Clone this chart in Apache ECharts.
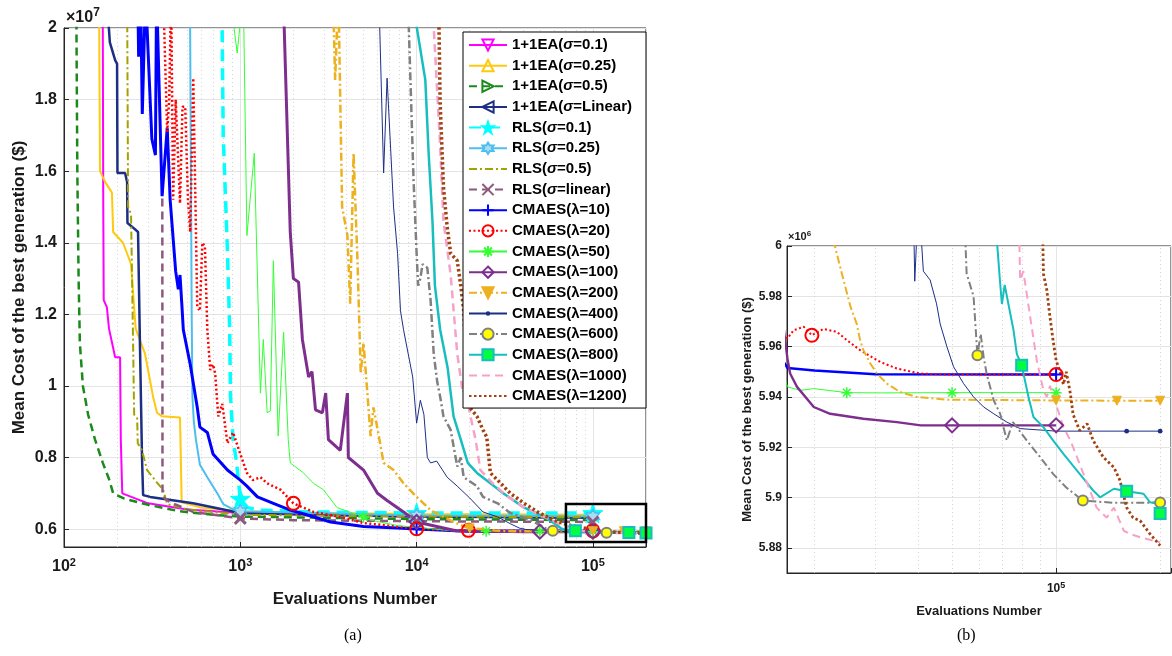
<!DOCTYPE html>
<html><head><meta charset="utf-8">
<script src="https://cdn.jsdelivr.net/npm/echarts@6/dist/echarts.min.js"></script>
<style>html,body{margin:0;padding:0;background:#fff}#c{width:1172px;height:656px}</style>
</head><body><div id="c"></div>
<script>
// ---------------- DATA (x = evaluations, y = mean cost in millions of $) ----------------
const seriesNames = ['1+1EA(σ=0.1)','1+1EA(σ=0.25)','1+1EA(σ=0.5)','1+1EA(σ=Linear)','RLS(σ=0.1)','RLS(σ=0.25)','RLS(σ=0.5)','RLS(σ=linear)','CMAES(λ=10)','CMAES(λ=20)','CMAES(λ=50)','CMAES(λ=100)','CMAES(λ=200)','CMAES(λ=400)','CMAES(λ=600)','CMAES(λ=800)','CMAES(λ=1000)','CMAES(λ=1200)'];

const ea01 = [[163,21],[166,20],[167,15],[168,12.4],[175,12.2],[180,11.6],[195,10.8],[208,10.8],[210,8.5],[214,7.0],[216,7.0],[300,6.72],[500,6.55],[1000,6.45],[3000,6.38],[1e4,6.35],[3e4,6.34],[1e5,6.33]];
const ea025 = [[158,21],[160,16],[171,15.7],[187,15.4],[190,14.3],[216,14.0],[228,13.7],[240,13.4],[255,11.6],[260,11.57],[288,10.9],[320,9.7],[337,9.25],[360,9.15],[455,9.12],[465,6.75],[600,6.6],[1000,6.5],[3000,6.45],[1e4,6.42],[1e5,6.4]];
const ea05 = [[117,22],[119,16],[121,13],[123,11.2],[128,10],[137,9.2],[150,8.5],[166,7.85],[180,7.4],[190,7.0],[220,6.85],[300,6.68],[450,6.5],[700,6.4],[1000,6.35],[1e4,6.28],[1e5,6.25]];
const eaLin = [[174,21],[182,19.6],[195,19.1],[200,19.0],[201,15.95],[222,15.95],[228,15.7],[229,14.55],[243,14.45],[263,14.3],[270,11],[277,8.0],[281,6.95],[308,6.9],[540,6.72],[1000,6.45],[1e4,6.35],[1e5,6.32]];
const rls01 = [[785,21],[800,17],[845,13.8],[870,11.6],[880,9.7],[910,8.5],[950,7.9],[1000,6.85],[1100,6.6],[1300,6.53],[2500,6.48],[1e4,6.45],[1e5,6.45]];
const rls025 = [[518,21],[530,12],[535,9.7],[545,9.0],[560,8.5],[590,7.8],[650,7.45],[740,7.0],[800,6.7],[910,6.55],[1000,6.5],[1e4,6.38],[1e5,6.36]];
const rls05 = [[228,21],[231,15],[240,14.8],[246,11.5],[250,9.2],[260,9.1],[262,8.4],[277,8.2],[296,7.65],[337,7.3],[365,7.1],[385,6.7],[500,6.55],[1000,6.4],[1e4,6.35],[1e5,6.33]];
const rlsLin = [[361,15.6],[362,6.9],[400,6.75],[540,6.48],[1000,6.3],[2000,6.25],[1e4,6.22],[1e5,6.2]];
const cma10 = [[262,21],[265,19.2],[272,21],[278,17.6],[290,21],[315,16.9],[330,16.45],[335,21],[360,15.3],[385,17.2],[400,15.2],[430,13.2],[445,12.7],[455,13.1],[467,12.2],[475,11.57],[520,10.6],[570,9.4],[590,8.85],[650,8.7],[700,8.1],[845,7.65],[1000,7.37],[1090,7.2],[1250,6.9],[1540,6.72],[1920,6.53],[2200,6.45],[3250,6.2],[5000,6.07],[7800,6.03],[1e4,6.0],[1.67e4,5.9515],[2e4,5.9505],[3e4,5.949],[1e5,5.9489]];
const cma20 = [[365,21],[385,17.1],[395,18],[405,21],[416,15.2],[430,18],[455,15.1],[470,17.8],[487,17.8],[505,15.2],[520,14.3],[541,18.6],[570,12.2],[590,12.1],[609,14.0],[630,13.9],[650,11.57],[675,10.45],[700,10.6],[720,10.35],[750,9.15],[790,9.5],[845,8.4],[910,8.7],[1000,8.1],[1090,7.57],[1180,7.37],[1300,7.45],[1420,7.28],[1690,7.1],[2000,6.72],[2600,6.48],[3690,6.34],[5000,6.17],[1e4,6.01],[1.67e4,5.9632],[1.74e4,5.9665],[1.86e4,5.9679],[1.965e4,5.9645],[2.12e4,5.967],[2.32e4,5.9659],[2.48e4,5.9626],[2.71e4,5.9586],[3.1e4,5.9539],[3.46e4,5.9513],[4.04e4,5.9493],[4.83e4,5.9489],[1e5,5.9489]];
const cma50 = [[870,21],[960,19.3],[1040,21],[1090,14.2],[1200,16.5],[1300,9.8],[1350,11.3],[1420,9.25],[1480,9.3],[1540,13.5],[1640,8.6],[1760,11.5],[1870,8.5],[1920,7.85],[2280,7.57],[2600,7.28],[2960,7.1],[3540,6.6],[4620,6.4],[5000,6.34],[5480,6.25],[7800,6.1],[1e4,6.05],[1.67e4,5.944],[1.82e4,5.9426],[1.99e4,5.9433],[2.48e4,5.9417],[3.1e4,5.9416],[5e4,5.9417],[1e5,5.9417]];
const cma100 = [[1750,21],[1920,14.3],[2000,13.0],[2140,12.9],[2250,11.3],[2440,10.25],[2550,10.4],[2670,9.33],[2920,9.25],[3050,9.8],[3160,8.5],[3690,8.2],[4050,9.8],[4100,8.0],[5000,7.65],[6000,7.0],[6800,6.8],[8430,6.48],[1e4,6.2],[1.67e4,5.9552],[1.7e4,5.9493],[1.78e4,5.944],[1.99e4,5.936],[2.22e4,5.9333],[2.77e4,5.9313],[3.46e4,5.93],[4.06e4,5.9287],[5e4,5.9287],[1e5,5.9287]];
const cma200 = [[3350,21],[3450,18.55],[3600,21],[3780,15.0],[4050,14.2],[4200,12.3],[4390,16.5],[4620,13.5],[4820,10.35],[5000,11.2],[5200,10.1],[5480,8.6],[5690,9.4],[6000,8.8],[6500,7.85],[7400,7.65],[8430,7.28],[1e4,6.9],[1.2e4,6.53],[1.42e4,6.34],[1.8e4,6.1],[2e4,6.02],[2.29e4,6.0],[2.4e4,5.989],[2.54e4,5.976],[2.65e4,5.969],[2.71e4,5.9625],[2.77e4,5.9586],[2.9e4,5.9533],[3.03e4,5.9493],[3.24e4,5.9453],[3.53e4,5.942],[3.95e4,5.94],[4.83e4,5.9389],[1e5,5.9386],[1.5e5,5.9385],[2e5,5.9385]];
const cma400 = [[6100,21],[6500,15.95],[6800,18.6],[7400,15.0],[7800,13.7],[8100,12.1],[8430,11.57],[9500,10.25],[1e4,8.96],[1.05e4,9.6],[1.1e4,9.2],[1.15e4,8.0],[1.2e4,7.85],[1.3e4,7.9],[1.49e4,7.45],[1.7e4,7.2],[2e4,6.87],[2.38e4,6.48],[2.88e4,6.34],[3.4e4,6.15],[3.86e4,6.02],[3.9e4,5.986],[4.0e4,6.02],[4.13e4,5.99],[4.32e4,5.9865],[4.51e4,5.977],[4.62e4,5.969],[4.83e4,5.96],[5.05e4,5.952],[5.4e4,5.9453],[5.77e4,5.94],[6.17e4,5.936],[6.6e4,5.9333],[7.2e4,5.93],[7.87e4,5.9274],[1e5,5.9264],[1.6e5,5.9264],[2e5,5.9264]];
const cma600 = [[8900,21],[9600,15.8],[1e4,13.7],[1.02e4,12.8],[1.05e4,13.0],[1.08e4,13.4],[1.15e4,13.3],[1.2e4,12.4],[1.25e4,10.9],[1.31e4,10.1],[1.36e4,9.7],[1.42e4,9.15],[1.56e4,8.77],[1.7e4,7.75],[1.78e4,8.0],[1.85e4,7.45],[2.2e4,7.2],[2.38e4,6.9],[2.88e4,6.72],[3.4e4,6.45],[4.45e4,6.25],[5.4e4,6.02],[5.51e4,5.989],[5.77e4,5.98],[5.92e4,5.9566],[6.05e4,5.965],[6.17e4,5.956],[6.3e4,5.949],[6.6e4,5.9386],[6.89e4,5.9333],[7.2e4,5.9227],[7.5e4,5.93],[8.22e4,5.9227],[9.0e4,5.916],[9.8e4,5.9094],[1.07e5,5.904],[1.195e5,5.8988],[1.47e5,5.8979],[2e5,5.898]];
const cma800 = [[9300,21],[1.12e4,18.55],[1.17e4,16.5],[1.23e4,14.6],[1.27e4,12.8],[1.36e4,11.57],[1.5e4,10.5],[1.62e4,9.15],[1.78e4,8.5],[1.95e4,7.85],[2.2e4,7.57],[2.62e4,7.28],[3.1e4,7.0],[4.07e4,6.6],[5.3e4,6.34],[6.3e4,6.1],[6.59e4,6.02],[6.89e4,5.985],[6.97e4,5.977],[7.1e4,5.9845],[7.53e4,5.9665],[7.7e4,5.957],[7.95e4,5.9526],[8.32e4,5.94],[8.6e4,5.932],[9.19e4,5.928],[9.8e4,5.9227],[1.05e5,5.9174],[1.17e5,5.9094],[1.28e5,5.9028],[1.34e5,5.9001],[1.47e5,5.9035],[1.6e5,5.9025],[1.79e5,5.9015],[1.87e5,5.8981],[1.97e5,5.8975],[2e5,5.8937]];
const cma1000 = [[1.22e4,21],[1.36e4,16.7],[1.42e4,14.6],[1.56e4,13.1],[1.7e4,10.9],[1.83e4,9.8],[1.9e4,10.0],[2e4,9.25],[2.16e4,8.5],[2.3e4,7.65],[2.7e4,7.28],[3.3e4,6.9],[4.07e4,6.6],[5.3e4,6.34],[6.8e4,6.1],[7.78e4,6.02],[7.87e4,5.9865],[8.04e4,5.99],[8.41e4,5.972],[8.79e4,5.9546],[9.19e4,5.9426],[9.4e4,5.94],[9.6e4,5.9444],[1.05e5,5.928],[1.1e5,5.9227],[1.15e5,5.916],[1.2e5,5.9094],[1.31e5,5.896],[1.4e5,5.892],[1.47e5,5.896],[1.57e5,5.8868],[1.64e5,5.8855],[1.75e5,5.8842],[2e5,5.8822]];
const cma1200 = [[1.33e4,21],[1.36e4,17.9],[1.42e4,15.56],[1.49e4,14.45],[1.56e4,13.7],[1.7e4,13.5],[1.78e4,12.8],[1.85e4,12.1],[1.92e4,10.5],[2e4,9.4],[2.2e4,9.15],[2.38e4,8.77],[2.5e4,8.57],[2.62e4,7.57],[2.88e4,7.37],[3.4e4,7.0],[4.07e4,6.72],[4.86e4,6.48],[5.95e4,6.25],[7.5e4,6.1],[9.1e4,6.02],[9.19e4,5.989],[9.4e4,5.9825],[9.6e4,5.9718],[9.8e4,5.9625],[1e5,5.9546],[1.03e5,5.9493],[1.05e5,5.945],[1.07e5,5.95],[1.1e5,5.9413],[1.12e5,5.933],[1.17e5,5.9267],[1.23e5,5.9293],[1.28e5,5.9227],[1.37e5,5.916],[1.47e5,5.912],[1.53e5,5.9068],[1.6e5,5.896],[1.67e5,5.892],[1.75e5,5.8908],[1.87e5,5.8855],[2e5,5.8809]];

// x positions where markers are drawn on each curve
const marks = {
  ea01: [], ea025: [], ea05: [], eaLin: [],
  rls01: [1000, 1e4, 1e5], rls025: [1000, 1e4, 1e5], rls05: [], rlsLin: [1000, 1e4, 1e5],
  cma10: [1e4, 1e5], cma20: [2000, 1e4, 1.965e4, 1e5], cma50: [5000, 2.48e4, 5e4, 1e5],
  cma100: [1e4, 5e4, 1e5], cma200: [2e4, 1e5, 1.5e5, 2e5], cma400: [1.6e5, 2e5],
  cma600: [5.92e4, 1.195e5, 2e5], cma800: [7.95e4, 1.6e5, 2e5], cma1000: [], cma1200: []
};
const curves = [ea01, ea025, ea05, eaLin, rls01, rls025, rls05, rlsLin, cma10, cma20, cma50, cma100, cma200, cma400, cma600, cma800, cma1000, cma1200];
const markKeys = ['ea01','ea025','ea05','eaLin','rls01','rls025','rls05','rlsLin','cma10','cma20','cma50','cma100','cma200','cma400','cma600','cma800','cma1000','cma1200'];

// axis ranges / ticks
const xRangeA = [100, 2e5], yRangeA = [5.5, 20];
const xRangeB = [1.665e4, 2.15e5], yRangeB = [5.87, 6.0];
const minorA = [200,300,400,500,600,700,800,900,2000,3000,4000,5000,6000,7000,8000,9000,2e4,3e4,4e4,5e4,6e4,7e4,8e4,9e4];
const minorB = [2e4,3e4,4e4,5e4,6e4,7e4,8e4,9e4,2e5];
const zoomBox = [7.03e4, 2e5, 5.64, 6.7];

// ---------------- STYLES ----------------
const FONT = '"Liberation Sans", Arial, Helvetica, sans-serif';
const P_STAR = 'path://M50,0L61.8,35.4L100,35.4L69.1,57.3L80.9,92.7L50,70.8L19.1,92.7L30.9,57.3L0,35.4L38.2,35.4Z';
const P_HEX = 'path://M50,0L64.4,25L93.3,25L78.9,50L93.3,75L64.4,75L50,100L35.6,75L6.7,75L21.1,50L6.7,25L35.6,25Z';
const P_X = 'path://M0,0L100,100M100,0L0,100';
const P_PLUS = 'path://M50,0L50,100M0,50L100,50';
const P_AST = 'path://M50,0L50,100M0,50L100,50M15,15L85,85M85,15L15,85';
const P_DOT = 'path://M0,0L0,0M100,100L100,100M30,50A20,20,0,1,1,70,50A20,20,0,1,1,30,50Z';
const DASH = [8,5], DOT = [2,2.5], DASHDOT = [8,3,2,3];
const T = 'transparent';
const styles = [
  {c:'#ff00ff', w:2,   t:'solid', sym:'triangle', rot:180, ss:11, fill:T, bw:1.5},
  {c:'#ffc90e', w:2,   t:'solid', sym:'triangle', rot:0,   ss:11, fill:T, bw:1.5},
  {c:'#1a8a1a', w:2.5, t:DASH,    sym:'triangle', rot:-90, ss:11, fill:T, bw:1.5},
  {c:'#1c2f85', w:2.5, t:'solid', sym:'triangle', rot:90,  ss:11, fill:T, bw:1.5},
  {c:'#00ffff', w:3.5, t:[12,7],  sym:P_STAR,     rot:0,   ss:20, fill:'#00ffff', bw:1},
  {c:'#4dbeee', w:2,   t:'solid', sym:P_HEX,      rot:0,   ss:13, fill:'#a9dcf5', bw:1.5},
  {c:'#a3a300', w:2,   t:DASHDOT, sym:'circle',   rot:0,   ss:1,  fill:T, bw:0},
  {c:'#8c5a7c', w:2.5, t:DASH,    sym:P_X,        rot:0,   ss:11, fill:T, bw:3},
  {c:'#0000ff', w:3,   t:'solid', sym:P_PLUS,     rot:0,   ss:13, fill:T, bw:2},
  {c:'#ff0000', w:2.5, t:DOT,     sym:'circle',   rot:0,   ss:13, fill:T, bw:2},
  {c:'#33ff33', w:1,   t:'solid', sym:P_AST,      rot:0,   ss:11, fill:T, bw:1.5},
  {c:'#7e2f8e', w:3,   t:'solid', sym:'diamond',  rot:0,   ss:14, fill:T, bw:2},
  {c:'#edb120', w:2.5, t:DASHDOT, sym:'triangle', rot:180, ss:9,  fill:'#edb120', bw:1},
  {c:'#1c2f85', w:1,   t:'solid', sym:P_DOT,      rot:0,   ss:12, fill:'#1c2f85', bw:0},
  {c:'#808080', w:2.5, t:DASHDOT, sym:'circle',   rot:0,   ss:10, fill:'#ffff00', bw:2},
  {c:'#17bebe', w:2.5, t:'solid', sym:'rect',     rot:0,   ss:11, fill:'#00ff40', bw:2},
  {c:'#f7a1c8', w:2.5, t:DASH,    sym:'circle',   rot:0,   ss:1,  fill:T, bw:0},
  {c:'#a0410f', w:3.5, t:[2.5,2.5], sym:'circle', rot:0,   ss:1,  fill:T, bw:0}
];

function buildData(pts, mk) {
  return pts.map(p => mk.indexOf(p[0]) >= 0 ? {value: p} : {value: p, symbol: 'none'});
}

const series = [];
[0, 1].forEach(g => {
  curves.forEach((pts, i) => {
    const s = styles[i];
    const ser = {
      type: 'line', name: seriesNames[i], xAxisIndex: g, yAxisIndex: g,
      data: buildData(pts, marks[markKeys[i]]),
      symbol: s.sym, symbolSize: s.ss, symbolRotate: s.rot, showSymbol: true,
      clip: true, z: 3, animation: false, smooth: false,
      lineStyle: {color: s.c, width: g === 1 ? Math.max(1, s.w * 0.8) : s.w, type: s.t},
      itemStyle: {color: s.fill, borderColor: s.c, borderWidth: s.bw, opacity: 1},
      emphasis: {disabled: true}
    };
    if (i === 0) {
      ser.markLine = {
        silent: true, symbol: ['none', 'none'], z: 1, animation: false,
        label: {show: false}, emphasis: {disabled: true},
        lineStyle: {type: [1, 3], color: '#d4d4d4', width: 1},
        data: (g === 0 ? minorA : minorB).map(v => ({xAxis: v}))
      };
    }
    if (i === 0 && g === 0) {
      ser.markArea = {
        silent: true, z: 6, animation: false, label: {show: false},
        itemStyle: {color: 'transparent', borderColor: '#000', borderWidth: 2.5},
        data: [[{xAxis: zoomBox[0], yAxis: zoomBox[3]}, {xAxis: zoomBox[1], yAxis: zoomBox[2]}]]
      };
    }
    series.push(ser);
  });
});

const axisTxt = '#1a1a1a';
function xFmt(v) {
  const e = Math.log10(v);
  if (Math.abs(e - Math.round(e)) > 1e-6) return '';
  return '10{s|' + Math.round(e) + '}';
}
function yFmtA(v) {
  const k = v / 2;
  if (Math.abs(k - Math.round(k)) > 1e-6) return '';
  return String(+(v / 10).toFixed(2));
}
function yFmtB(v) {
  const k = v / 0.02;
  if (Math.abs(k - Math.round(k)) > 1e-4) return '';
  return String(+v.toFixed(2));
}
const axisLineS = {show: true, lineStyle: {color: '#262626', width: 1}};
const tickS = {show: true, inside: true, length: 5, lineStyle: {color: '#262626'}};
const splitS = {show: true, lineStyle: {color: '#e4e4e4', width: 1, type: 'solid'}};

const option = {
  animation: false,
  backgroundColor: '#fff',
  textStyle: {fontFamily: FONT},
  grid: [
    {left: 64, top: 28, width: 582, height: 519, show: true, borderColor: '#262626', borderWidth: 1, backgroundColor: 'transparent', containLabel: false, outerBoundsMode: 'none'},
    {left: 787, top: 246, width: 384, height: 327, show: true, borderColor: '#262626', borderWidth: 1, backgroundColor: 'transparent', containLabel: false, outerBoundsMode: 'none'}
  ],
  xAxis: [
    {type: 'log', gridIndex: 0, logBase: 10, min: xRangeA[0], max: xRangeA[1],
     name: 'Evaluations Number', nameLocation: 'middle', nameGap: 44,
     nameTextStyle: {fontSize: 17, fontWeight: 'bold', color: axisTxt, fontFamily: FONT},
     axisLine: axisLineS, axisTick: tickS, splitLine: splitS, minorTick: {show: false},
     axisLabel: {formatter: xFmt, fontSize: 16, fontWeight: 'bold', color: axisTxt, fontFamily: FONT, margin: 10,
       rich: {s: {fontSize: 11, fontWeight: 'bold', color: axisTxt, fontFamily: FONT, padding: [0, 0, 9, 0]}}}},
    {type: 'log', gridIndex: 1, logBase: 10, min: xRangeB[0], max: xRangeB[1],
     name: 'Evaluations Number', nameLocation: 'middle', nameGap: 32,
     nameTextStyle: {fontSize: 13, fontWeight: 'bold', color: axisTxt, fontFamily: FONT},
     axisLine: axisLineS, axisTick: tickS, splitLine: splitS,
     axisLabel: {formatter: xFmt, fontSize: 12, fontWeight: 'bold', color: axisTxt, fontFamily: FONT, margin: 8,
       rich: {s: {fontSize: 9, fontWeight: 'bold', color: axisTxt, fontFamily: FONT, padding: [0, 0, 7, 0]}}}}
  ],
  yAxis: [
    {type: 'value', gridIndex: 0, min: yRangeA[0], max: yRangeA[1], splitNumber: 7,
     name: 'Mean Cost of the best generation ($)', nameLocation: 'middle', nameGap: 36, nameRotate: 90,
     nameTextStyle: {fontSize: 17, fontWeight: 'bold', color: axisTxt, fontFamily: FONT},
     axisLine: axisLineS, axisTick: tickS, splitLine: splitS,
     axisLabel: {formatter: yFmtA, fontSize: 16, fontWeight: 'bold', color: axisTxt, fontFamily: FONT, margin: 7}},
    {type: 'value', gridIndex: 1, min: yRangeB[0], max: yRangeB[1], splitNumber: 6,
     name: 'Mean Cost of the best generation ($)', nameLocation: 'middle', nameGap: 33, nameRotate: 90,
     nameTextStyle: {fontSize: 13, fontWeight: 'bold', color: axisTxt, fontFamily: FONT},
     axisLine: axisLineS, axisTick: tickS, splitLine: splitS,
     axisLabel: {formatter: yFmtB, fontSize: 12, fontWeight: 'bold', color: axisTxt, fontFamily: FONT, margin: 5}}
  ],
  legend: {
    data: seriesNames, orient: 'vertical', left: 463, top: 32,
    backgroundColor: '#fff', borderColor: '#000', borderWidth: 1, borderRadius: 0,
    padding: [5, 14, 4, 5], itemGap: 4.65, itemWidth: 38, itemHeight: 14,
    selectedMode: false, z: 10,
    formatter: n => n.replace('σ', '{i|σ}'),
    textStyle: {fontSize: 15, fontWeight: 'bold', color: '#000', fontFamily: FONT, lineHeight: 16,
      rich: {i: {fontSize: 15, fontWeight: 'bold', fontStyle: 'italic', color: '#000', fontFamily: FONT, lineHeight: 16}}}
  },
  graphic: [
    {type: 'text', left: 66, top: 7, z: 10, style: {text: '×10{s|7}', fill: axisTxt,
      font: 'bold 16px ' + FONT, rich: {s: {fontSize: 12, fontWeight: 'bold', fontFamily: FONT, fill: axisTxt, padding: [0, 0, 9, 0]}}}},
    {type: 'text', left: 788, top: 230, z: 10, style: {text: '×10{s|6}', fill: axisTxt,
      font: 'bold 11px ' + FONT, rich: {s: {fontSize: 8, fontWeight: 'bold', fontFamily: FONT, fill: axisTxt, padding: [0, 0, 6, 0]}}}},
    {type: 'text', left: 344, top: 628, style: {text: '(a)', fill: '#000', font: '16px "Liberation Serif", "Times New Roman", serif'}},
    {type: 'text', left: 957, top: 628, style: {text: '(b)', fill: '#000', font: '16px "Liberation Serif", "Times New Roman", serif'}}
  ],
  series: series
};

const chart = echarts.init(document.getElementById('c'), null, {renderer: 'canvas'});
chart.setOption(option);
</script></body></html>
